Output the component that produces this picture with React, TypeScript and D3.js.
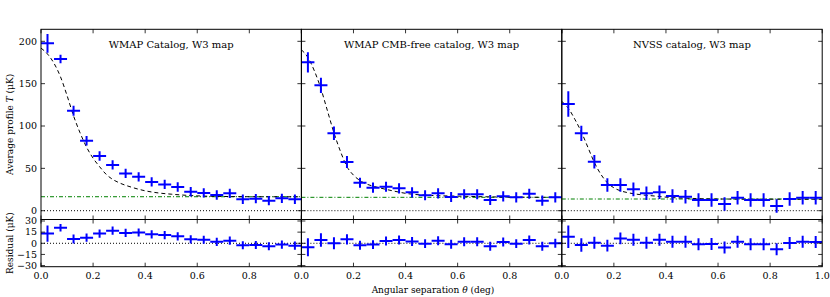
import React from 'react';
import * as d3 from 'd3';

// ---- data ----
const theta = [0.025, 0.075, 0.125, 0.175, 0.225, 0.275, 0.325, 0.375, 0.425, 0.475,
  0.525, 0.575, 0.625, 0.675, 0.725, 0.775, 0.825, 0.875, 0.925, 0.975];
const binHalf = 0.025;

const panelTitles = ['WMAP Catalog, W3 map', 'WMAP CMB-free catalog, W3 map', 'NVSS catalog, W3 map'];

const wmapProfile = [197.6, 179, 118, 82.6, 64.6, 54, 44, 40, 34, 31, 28, 22.4, 21, 18.5, 20.5, 13.5, 14.2, 11.8, 14.6, 13.5];
const wmapErr = [11, 5, 6, 5.5, 5.5, 5.5, 5.5, 5.5, 5.5, 5.5, 5.5, 5.5, 5.5, 5.5, 5.5, 5.5, 5.5, 5.5, 5.5, 5.5];
const wmapResid = [13, 21, 5.7, 7.5, 13, 17, 14, 14.5, 12, 11, 9.3, 5.3, 4.8, 2, 3.5, -2.6, -2.3, -4, -1.8, -3.2];
const wmapModelX = [0, 0.025, 0.05, 0.075, 0.1, 0.125, 0.15, 0.175, 0.2, 0.225, 0.25, 0.275, 0.3, 0.35, 0.4, 0.45, 0.5, 0.6, 0.7, 0.8, 1.0];
const wmapModelY = [192, 185, 174, 158, 136, 112, 92, 75, 62, 52, 43, 37, 33, 27.5, 23.5, 21, 19.5, 17.5, 16.8, 16.5, 16.4];
const wmapBackground = 16.5;

const cmbfreeProfile = [175.2, 148, 91.4, 57.5, 33, 27.2, 28.3, 26.4, 21.7, 18.2, 20.5, 16.2, 19.4, 19.4, 12.6, 17, 15.8, 20, 11.8, 15.8];
const cmbfreeErr = [12, 9, 8, 7, 6, 6, 6, 6, 6, 6, 6, 6, 6, 6, 6, 6, 6, 6, 6, 6];
const cmbfreeResid = [-5.3, 4.4, 0, 5.3, -2.6, -1.8, 3, 4.4, 2.5, -0.5, 3.5, -1.3, 2, 2, -4, 1.7, -0.5, 4.4, -4, 0];
const cmbfreeModelX = [0, 0.025, 0.05, 0.075, 0.1, 0.125, 0.15, 0.175, 0.2, 0.225, 0.25, 0.275, 0.3, 0.35, 0.4, 0.5, 0.6, 0.7, 0.8, 1.0];
const cmbfreeModelY = [190, 181, 165, 144, 118, 92, 70, 52, 42, 35.5, 31.5, 29, 27, 23.5, 20.5, 18, 17.2, 16.5, 16, 15.8];
const cmbfreeBackground = 15.8;

const nvssProfile = [126, 91.4, 57.9, 30.3, 30.3, 25.2, 20.5, 21.7, 17.4, 16.5, 12.6, 12.6, 7.9, 15.3, 12.6, 12.6, 5.5, 13.8, 15.3, 15.3];
const nvssErr = [15, 9, 8, 8, 8, 8, 8, 8, 8, 8, 8, 8, 8, 8, 8, 8, 8, 8, 8, 8];
const nvssResid = [8.8, -2.3, 0.8, -3.2, 6.6, 4.8, 0.8, 4.8, 2, 2, -1.3, -0.9, -5.7, 2, -1.3, -1.3, -8, 0.4, 2, 1.7];
const nvssModelX = [0, 0.025, 0.05, 0.075, 0.1, 0.125, 0.15, 0.175, 0.2, 0.225, 0.25, 0.3, 0.35, 0.4, 0.5, 0.6, 0.8, 1.0];
const nvssModelY = [129, 121, 108, 93, 75, 57, 43, 33, 27, 23.5, 21.5, 19, 17.5, 16, 14.5, 13.8, 13.6, 13.5];
const nvssBackground = 13.8;

const xTicks = [0, 0.2, 0.4, 0.6, 0.8, 1.0];
const yTopTicks = [0, 50, 100, 150, 200];
const yResTicks = [-30, -15, 0, 15, 30];

const panels = [
  { title: panelTitles[0], profile: wmapProfile, err: wmapErr, resid: wmapResid, mx: wmapModelX, my: wmapModelY, bg: wmapBackground, lastLabel: false },
  { title: panelTitles[1], profile: cmbfreeProfile, err: cmbfreeErr, resid: cmbfreeResid, mx: cmbfreeModelX, my: cmbfreeModelY, bg: cmbfreeBackground, lastLabel: false },
  { title: panelTitles[2], profile: nvssProfile, err: nvssErr, resid: nvssResid, mx: nvssModelX, my: nvssModelY, bg: nvssBackground, lastLabel: true },
];

// ---- layout ----
const W = 830, H = 297;
const left0 = 41, panelW = 260.4;
const topY0 = 29.3, topY1 = 219.5, resY1 = 266.7;
const FONT = '"DejaVu Serif", serif';
const BLUE = '#0000ff';
const TICK = 4;

const yTop = d3.scaleLinear().domain([-10.4, 214.2]).range([topY1, topY0]);
const yRes = d3.scaleLinear().domain([-31.5, 32]).range([resY1, topY1]);

const fmtX = d3.format('.1f');
const fmtY = (v: number) => (v < 0 ? '\u2212' + Math.abs(v) : String(v));

function Panel({ p, i }: { p: any; i: number }) {
  const x0 = left0 + i * panelW;
  const x = d3.scaleLinear().domain([0, 1]).range([x0, x0 + panelW]);
  const model = d3.line<number>().x((_, k) => x(p.mx[k])).y((d) => yTop(d)).curve(d3.curveMonotoneX)(p.my) || '';
  const clipTop = `clipTop${i}`;
  const clipRes = `clipRes${i}`;
  return (
    <g>
      <defs>
        <clipPath id={clipTop}><rect x={x0} y={topY0} width={panelW} height={topY1 - topY0} /></clipPath>
        <clipPath id={clipRes}><rect x={x0} y={topY1} width={panelW} height={resY1 - topY1} /></clipPath>
      </defs>
      {/* top panel */}
      <g clipPath={`url(#${clipTop})`}>
        <line x1={x(0)} x2={x(1)} y1={yTop(0)} y2={yTop(0)} stroke="#000" strokeWidth={1} strokeDasharray="1,2" />
        <line x1={x(0)} x2={x(1)} y1={yTop(p.bg)} y2={yTop(p.bg)} stroke="#008000" strokeWidth={1} strokeDasharray="4,2,1,2" />
        <path d={model} fill="none" stroke="#000" strokeWidth={1} strokeDasharray="4,3" />
        {theta.map((t, k) => (
          <g key={k} stroke={BLUE} strokeWidth={2}>
            <line x1={x(t - binHalf)} x2={x(t + binHalf)} y1={yTop(p.profile[k])} y2={yTop(p.profile[k])} />
            <line x1={x(t)} x2={x(t)} y1={yTop(p.profile[k] - p.err[k])} y2={yTop(p.profile[k] + p.err[k])} />
          </g>
        ))}
      </g>
      {/* residual panel */}
      <g clipPath={`url(#${clipRes})`}>
        <line x1={x(0)} x2={x(1)} y1={yRes(0)} y2={yRes(0)} stroke="#000" strokeWidth={1} strokeDasharray="1,2" />
        {theta.map((t, k) => (
          <g key={k} stroke={BLUE} strokeWidth={2}>
            <line x1={x(t - binHalf)} x2={x(t + binHalf)} y1={yRes(p.resid[k])} y2={yRes(p.resid[k])} />
            <line x1={x(t)} x2={x(t)} y1={yRes(p.resid[k] - p.err[k])} y2={yRes(p.resid[k] + p.err[k])} />
          </g>
        ))}
      </g>
      <text x={x(0.5)} y={47.5} textAnchor="middle" fontFamily={FONT} fontSize={10}>{p.title}</text>
      {/* ticks */}
      <g stroke="#000" strokeWidth={0.8}>
        {xTicks.map((t) => (
          <g key={'xt' + t}>
            <line x1={x(t)} x2={x(t)} y1={topY0} y2={topY0 + TICK} />
            <line x1={x(t)} x2={x(t)} y1={topY1} y2={topY1 - TICK} />
            <line x1={x(t)} x2={x(t)} y1={topY1} y2={topY1 + TICK} />
            <line x1={x(t)} x2={x(t)} y1={resY1} y2={resY1 - TICK} />
          </g>
        ))}
        {yTopTicks.map((v) => (
          <g key={'yt' + v}>
            <line x1={x(0)} x2={x(0) + TICK} y1={yTop(v)} y2={yTop(v)} />
            <line x1={x(1)} x2={x(1) - TICK} y1={yTop(v)} y2={yTop(v)} />
          </g>
        ))}
        {yResTicks.map((v) => (
          <g key={'yr' + v}>
            <line x1={x(0)} x2={x(0) + TICK} y1={yRes(v)} y2={yRes(v)} />
            <line x1={x(1)} x2={x(1) - TICK} y1={yRes(v)} y2={yRes(v)} />
          </g>
        ))}
      </g>
      {xTicks.filter((t) => p.lastLabel || t < 1).map((t) => (
        <text key={'xl' + t} x={x(t)} y={278.5} textAnchor="middle" fontFamily={FONT} fontSize={9.5}>{fmtX(t)}</text>
      ))}
      {/* frames */}
      <rect x={x0} y={topY0} width={panelW} height={topY1 - topY0} fill="none" stroke="#000" strokeWidth={1} />
      <rect x={x0} y={topY1} width={panelW} height={resY1 - topY1} fill="none" stroke="#000" strokeWidth={1} />
    </g>
  );
}

export default function App() {
  return (
    <svg width={W} height={H} viewBox={`0 0 ${W} ${H}`} style={{ position: 'absolute', left: 0, top: 0, background: '#fff' }}>
      <rect x={0} y={0} width={W} height={H} fill="#fff" />
      {panels.map((p, i) => <Panel key={i} p={p} i={i} />)}
      {yTopTicks.map((v) => (
        <text key={'ytl' + v} x={left0 - 4} y={yTop(v) + 3.3} textAnchor="end" fontFamily={FONT} fontSize={9.5}>{fmtY(v)}</text>
      ))}
      {yResTicks.map((v) => (
        <text key={'yrl' + v} x={left0 - 4} y={yRes(v) + 3.3} textAnchor="end" fontFamily={FONT} fontSize={9.5}>{fmtY(v)}</text>
      ))}
      <text transform={`translate(12.5,${(topY0 + topY1) / 2}) rotate(-90)`} textAnchor="middle" fontFamily={FONT} fontSize={9}>
        Average profile <tspan fontStyle="italic">T</tspan> (μK)
      </text>
      <text transform={`translate(12.5,${(topY1 + resY1) / 2}) rotate(-90)`} textAnchor="middle" fontFamily={FONT} fontSize={9}>
        Residual (μK)
      </text>
      <text x={433} y={292.5} textAnchor="middle" fontFamily={FONT} fontSize={9}>
        Angular separation <tspan fontStyle="italic">θ</tspan> (deg)
      </text>
    </svg>
  );
}
